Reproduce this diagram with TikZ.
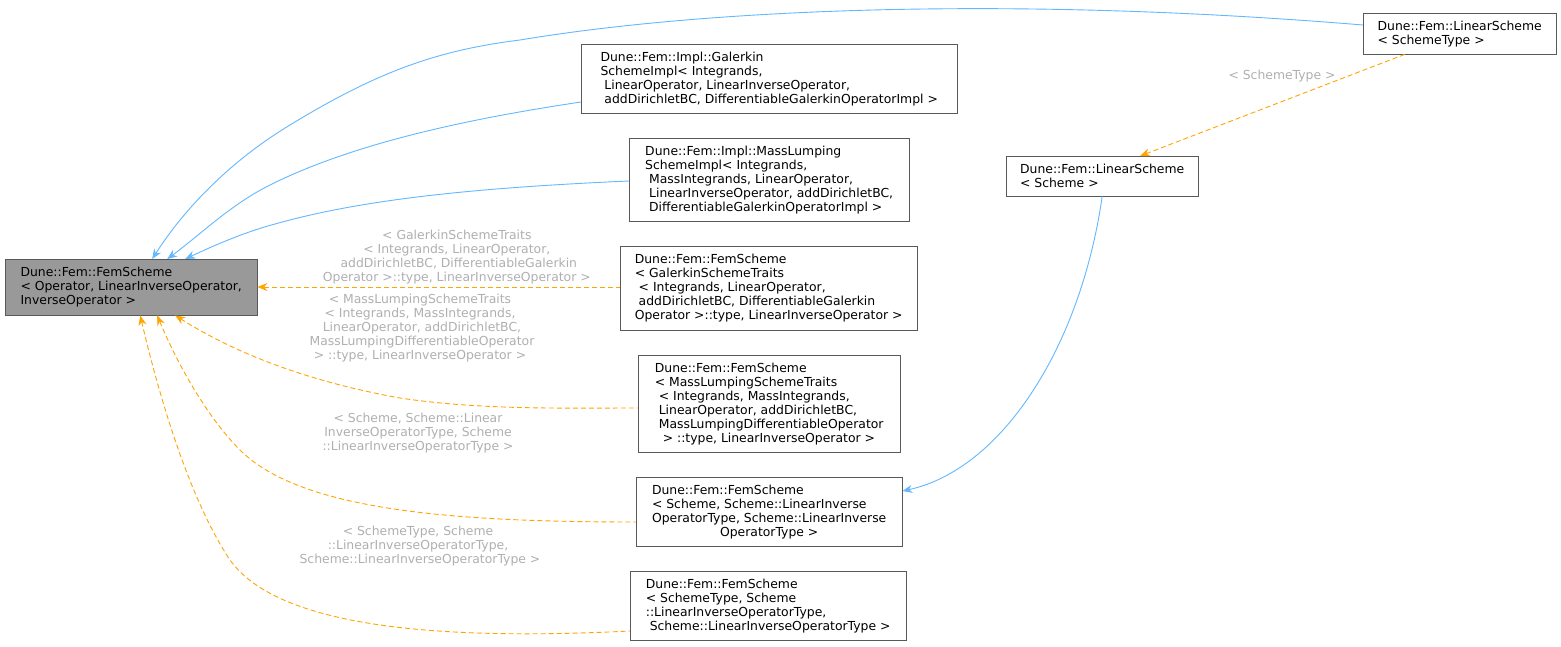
\documentclass[tikz,border=0pt]{standalone}
\usepackage{fontspec}
\setmainfont{DejaVu Sans}
\usetikzlibrary{arrows.meta}
\definecolor{eblue}{HTML}{63B8FF}
\definecolor{eorange}{HTML}{FFA500}
\definecolor{lgray}{HTML}{B0B0B0}
\begin{document}
\begin{tikzpicture}[x=1pt,y=-1pt,
  box/.style={draw=black!65,fill=white,align=left,inner xsep=8pt,inner ysep=5pt,font=\fontsize{12.4}{14}\selectfont,anchor=north west},
  blue/.style={draw=eblue,line width=0.9pt,{Stealth[length=10pt,width=8pt]}-},
  orange/.style={draw=eorange,line width=0.9pt,dashed,dash pattern=on 5pt off 3pt,{Stealth[length=10pt,width=8pt]}-},
  lab/.style={text=lgray,align=center,font=\fontsize{12.4}{14}\selectfont}]
\useasboundingbox[fill=white] (0,0) rectangle (1561,646);
\node[box,fill=black!40,minimum width=252pt,minimum height=56pt] (A) at (5,259) {Dune::Fem::FemScheme\\{<} Operator, LinearInverseOperator,\\InverseOperator {>}};
\node[box,minimum width=193pt,minimum height=41pt] (B) at (1363,13) {Dune::Fem::LinearScheme\\{<} SchemeType {>}};
\node[box,minimum width=376pt,minimum height=69pt] (C) at (581,44) {Dune::Fem::Impl::Galerkin\\SchemeImpl{<} Integrands,\\\ LinearOperator, LinearInverseOperator,\\\ addDirichletBC, DifferentiableGalerkinOperatorImpl {>}};
\node[box,minimum width=280pt,minimum height=83pt] (D) at (629,138) {Dune::Fem::Impl::MassLumping\\SchemeImpl{<} Integrands,\\\ MassIntegrands, LinearOperator,\\\ LinearInverseOperator, addDirichletBC,\\\ DifferentiableGalerkinOperatorImpl {>}};
\node[box,minimum width=297pt,minimum height=84pt] (E) at (620,246) {Dune::Fem::FemScheme\\{<} GalerkinSchemeTraits\\\ {<} Integrands, LinearOperator,\\\ addDirichletBC, DifferentiableGalerkin\\Operator {>}::type, LinearInverseOperator {>}};
\node[box,minimum width=262pt,minimum height=97pt] (F) at (638,355) {Dune::Fem::FemScheme\\{<} MassLumpingSchemeTraits\\\ {<} Integrands, MassIntegrands,\\\ LinearOperator, addDirichletBC,\\\ MassLumpingDifferentiableOperator\\\ \ {>} ::type, LinearInverseOperator {>}};
\node[box,minimum width=192pt,minimum height=40pt] (G) at (1006,156) {Dune::Fem::LinearScheme\\{<} Scheme {>}};
\node[box,minimum width=266pt,minimum height=69pt] (H) at (636,477) {Dune::Fem::FemScheme\\{<} Scheme, Scheme::LinearInverse\\OperatorType, Scheme::LinearInverse\\\hfill OperatorType {>}\hfill\hbox{}};
\node[box,minimum width=276pt,minimum height=69pt] (I) at (630,571) {Dune::Fem::FemScheme\\{<} SchemeType, Scheme\\::LinearInverseOperatorType,\\\ Scheme::LinearInverseOperatorType {>}};
% blue edges
\draw[blue] ([xshift=21pt]A.north) .. controls (190,200) and (240,155) .. (290,125) .. controls (380,70) and (440,50) .. (520,40) .. controls (700,10) and (1000,-5) .. ([yshift=-12pt]B.north west);
\draw[blue] ([xshift=36pt]A.north) .. controls (200,235) and (230,205) .. (270,185) .. controls (350,145) and (460,120) .. ([yshift=-58pt]C.north west);
\draw[blue] ([xshift=54pt]A.north) .. controls (215,245) and (245,232) .. (275,224) .. controls (360,200) and (470,188) .. ([yshift=-43pt]D.north west);
\draw[blue] (H.east |- 0,491) .. controls (1000,470) and (1080,350) .. (G.south);
% orange edges
\draw[orange] (A.east |- 0,287) -- node[lab,above=-1pt,pos=0.55]{{<} GalerkinSchemeTraits\\{<} Integrands, LinearOperator,\\\ addDirichletBC, DifferentiableGalerkin\\Operator {>}::type, LinearInverseOperator {>}} (E.west |- 0,287);
\node[lab] (lF) at (420,328) {{<} MassLumpingSchemeTraits\\{<} Integrands, MassIntegrands,\\\ LinearOperator, addDirichletBC,\\\ MassLumpingDifferentiableOperator\\{>} ::type, LinearInverseOperator {>}};
\draw[orange] ([xshift=44pt]A.south) .. controls (230,350) and (300,380) .. (400,398) .. controls (480,410) and (560,408) .. (F.west |- 0,408);
\node[lab] (lH) at (418,433) {{<} Scheme, Scheme::Linear\\InverseOperatorType, Scheme\\::LinearInverseOperatorType {>}};
\draw[orange] ([xshift=26pt]A.south) .. controls (180,370) and (210,420) .. (240,450) .. controls (300,510) and (450,522) .. (H.west |- 0,522);
\node[lab] (lI) at (418,546) {{<} SchemeType, Scheme\\::LinearInverseOperatorType,\\\ Scheme::LinearInverseOperatorType {>}};
\draw[orange] ([xshift=9pt]A.south) .. controls (160,400) and (190,500) .. (230,560) .. controls (280,630) and (450,640) .. (I.west |- 0,631);
\coordinate (g1) at (1140,156);
\node[lab] (lB) at (1282,76) {{<} SchemeType {>}};
\draw[orange] (g1) -- ([xshift=-55pt]B.south);
\end{tikzpicture}
\end{document}
